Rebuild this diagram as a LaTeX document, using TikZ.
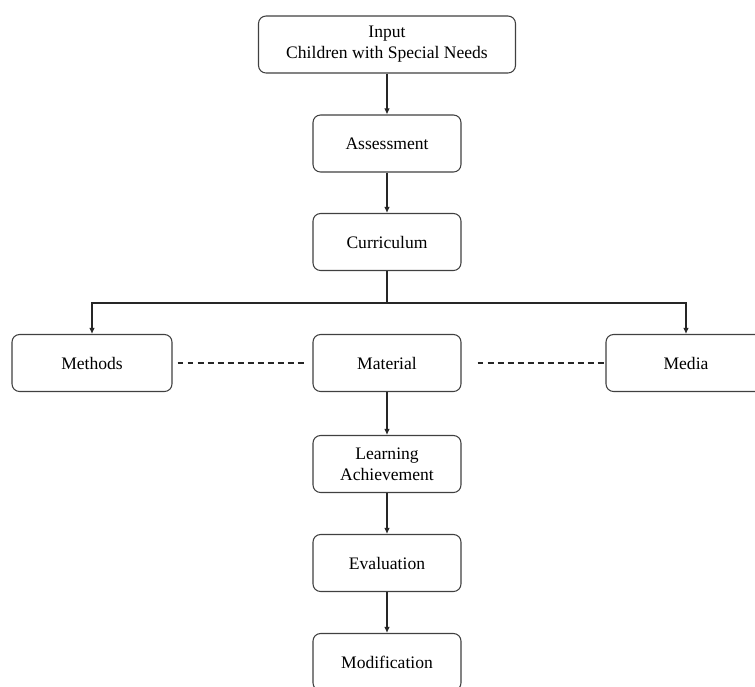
\documentclass[tikz,border=0pt]{standalone}
\usepackage{fontspec}
\setmainfont{Liberation Serif}
\usetikzlibrary{arrows.meta}

\begin{document}
\begin{tikzpicture}[x=0.02cm, y=-0.02cm]
        % ================= styles =================
        \tikzset{
            % rounded box, white fill, dark border
            box/.style={rectangle, draw=black!75, line width=0.6pt, rounded corners=0.15cm, fill=white, minimum width=2.96cm, minimum height=1.14cm, inner sep=2pt, align=center, font=\normalsize},
            % wide box at the top
            wide_box/.style={box, minimum width=5.14cm},
            % boxes on the side branches
            side_box/.style={box, minimum width=3.2cm},
            % connectors
            flow_edge/.style={line width=0.6pt, black!85, -{Latex[length=3.5pt, width=3.2pt]}},
            plain_edge/.style={line width=0.6pt, black!85},
            dash_edge/.style={line width=0.6pt, black!85, dash pattern=on 3.4pt off 2.3pt}
        }

        % ================= frame (755 x 687) =================
        \clip (0,0) rectangle (755,687);

        % ================= main column =================
        \def\mx{387}
        \node[wide_box] (input) at (\mx, 44.5) {Input\\Children with Special Needs};
        \node[box] (assess)   at (\mx, 143.5) {Assessment};
        \node[box] (curric)   at (\mx, 242)   {Curriculum};
        \node[box] (material) at (\mx, 363)   {Material};
        \node[box] (learn)    at (\mx, 464)   {Learning\\Achievement};
        \node[box] (eval)     at (\mx, 563)   {Evaluation};
        \node[box] (modif)    at (\mx, 662)   {Modification};

        % ================= side branches =================
        \node[side_box] (methods) at (92, 363)  {Methods};
        \node[side_box] (media)   at (686, 363) {Media};

        % branch point under Curriculum
        \coordinate (branch) at (\mx, 303);

        % ================= connectors =================
        \draw[flow_edge] (input) -- (assess);
        \draw[flow_edge] (assess) -- (curric);
        \draw[plain_edge] (curric) -- (branch);
        \draw[flow_edge] (branch) -| (methods);
        \draw[flow_edge] (branch) -| (media);
        \draw[flow_edge] (material) -- (learn);
        \draw[flow_edge] (learn) -- (eval);
        \draw[flow_edge] (eval) -- (modif);

        % dashed links on the Material row
        \draw[dash_edge, shorten <=0.1cm, shorten >=0.1cm] (methods) -- (material);
        \draw[dash_edge, shorten <=0.32cm] (material) -- (media);

\end{tikzpicture}
\end{document}
